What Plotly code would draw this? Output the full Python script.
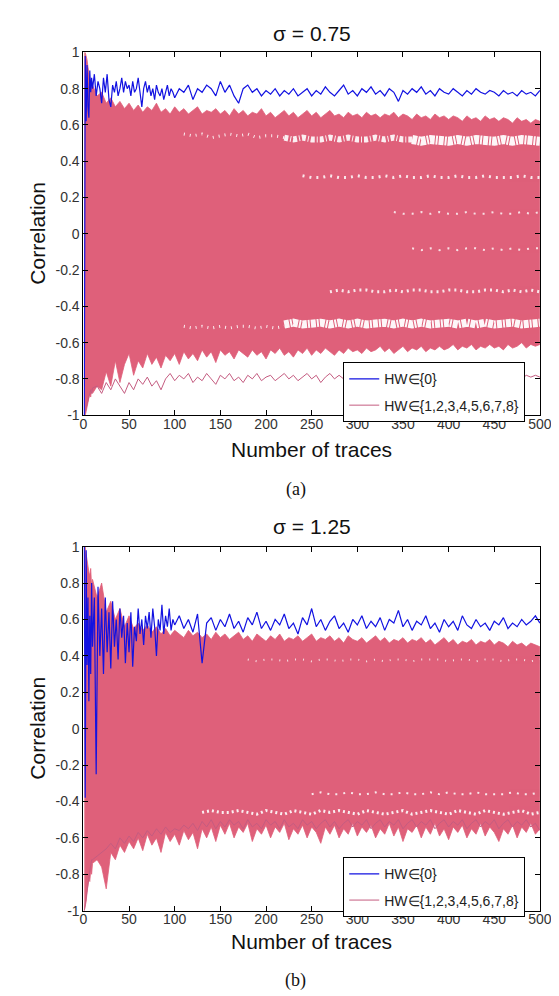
import plotly.graph_objects as go

# ---------------- data ----------------
X_TICKS = [0, 50, 100, 150, 200, 250, 300, 350, 400, 450, 500]
Y_TICKS = [1, 0.8, 0.6, 0.4, 0.2, 0, -0.2, -0.4, -0.6, -0.8, -1]
Y_TICK_TEXT = ["1", "0.8", "0.6", "0.4", "0.2", "0", "-0.2", "-0.4", "-0.6", "-0.8", "-1"]

TITLES = ["\u03c3 = 0.75", "\u03c3 = 1.25"]
PANEL_LABELS = ["(a)", "(b)"]
SERIES_NAMES = ["HW\u2208{0}", "HW\u2208{1,2,3,4,5,6,7,8}"]

X_BLUE = [1, 2, 3, 4, 5, 6, 7, 8, 9, 10] + list(range(12, 101, 2)) + list(range(105, 501, 5))
X_PINK = [1, 2, 3, 4, 5, 6, 7, 8, 9, 10] + list(range(15, 501, 5))

BLUE_A = [
    -1.00, 0.98, 0.62, 0.93, 0.70, 0.64, 0.90, 0.78, 0.86, 0.80,
    0.88, 0.76, 0.84, 0.80, 0.72, 0.86, 0.78, 0.88, 0.74, 0.70,
    0.82, 0.78, 0.84, 0.76, 0.80, 0.86, 0.78, 0.84, 0.80, 0.82,
    0.76, 0.84, 0.78, 0.80, 0.86, 0.76, 0.70, 0.80, 0.84, 0.78,
    0.82, 0.76, 0.80, 0.74, 0.82, 0.78, 0.76, 0.80, 0.74, 0.78,
    0.82, 0.76, 0.80, 0.78, 0.75,
    0.80, 0.78, 0.82, 0.74, 0.80, 0.78, 0.82, 0.80, 0.76, 0.84,
    0.78, 0.82, 0.76, 0.72, 0.80, 0.82, 0.78, 0.80, 0.76, 0.79,
    0.77, 0.80, 0.76, 0.79, 0.77, 0.80, 0.76, 0.78, 0.80, 0.76,
    0.79, 0.77, 0.81, 0.78, 0.76, 0.79, 0.82, 0.77, 0.79, 0.76,
    0.80, 0.78, 0.81, 0.77, 0.79, 0.76, 0.80, 0.78, 0.73, 0.79,
    0.77, 0.80, 0.78, 0.81, 0.77, 0.79, 0.76, 0.80, 0.78, 0.77,
    0.80, 0.78, 0.76, 0.79, 0.77, 0.80, 0.78, 0.77, 0.79, 0.78,
    0.76, 0.79, 0.77, 0.78, 0.76, 0.79, 0.77, 0.78, 0.76, 0.79,
]
BLUE_B = [
    1.00, -0.38, 0.98, 0.35, 0.72, 0.15, 0.62, 0.30, 0.80, 0.45,
    0.72, -0.25, 0.78, 0.40, 0.66, 0.30, 0.72, 0.42, 0.64, 0.33,
    0.70, 0.45, 0.60, 0.38, 0.66, 0.50, 0.62, 0.36, 0.58, 0.42,
    0.64, 0.34, 0.56, 0.48, 0.66, 0.52, 0.60, 0.46, 0.62, 0.55,
    0.64, 0.50, 0.66, 0.56, 0.40, 0.60, 0.54, 0.68, 0.52, 0.62,
    0.56, 0.66, 0.54, 0.60, 0.57,
    0.62, 0.55, 0.60, 0.53, 0.63, 0.36, 0.58, 0.61, 0.54, 0.60,
    0.56, 0.63, 0.55, 0.59, 0.53, 0.61, 0.57, 0.64, 0.55, 0.59,
    0.54, 0.60, 0.57, 0.63, 0.55, 0.58, 0.52, 0.61, 0.57, 0.66,
    0.56, 0.60, 0.54, 0.59, 0.62, 0.55, 0.58, 0.53, 0.60, 0.57,
    0.62, 0.55, 0.59, 0.56, 0.61, 0.54, 0.60, 0.58, 0.65, 0.56,
    0.60, 0.54, 0.59, 0.57, 0.62, 0.55, 0.58, 0.53, 0.60, 0.56,
    0.59, 0.54, 0.62, 0.57, 0.55, 0.60, 0.56, 0.58, 0.54, 0.59,
    0.57, 0.61, 0.55, 0.58, 0.56, 0.60, 0.57, 0.59, 0.62, 0.58,
]

PINK_A_UP = [
    1.00, 1.00, 0.98, 0.96, 0.92, 0.88, 0.86, 0.84, 0.80, 0.82,
    0.76, 0.78, 0.72, 0.75, 0.70, 0.73, 0.69, 0.72, 0.68, 0.71,
    0.67, 0.70, 0.68, 0.72, 0.67, 0.69, 0.66, 0.70, 0.67, 0.69,
    0.66, 0.68, 0.70, 0.66, 0.68, 0.67, 0.69, 0.66, 0.68, 0.65,
    0.69, 0.66, 0.68, 0.65, 0.67, 0.66, 0.69, 0.65, 0.67, 0.64,
    0.66, 0.68, 0.65, 0.67, 0.64, 0.66, 0.68, 0.65, 0.67, 0.64,
    0.66, 0.68, 0.65, 0.66, 0.64, 0.67, 0.65, 0.66, 0.64, 0.67,
    0.65, 0.66, 0.64, 0.66, 0.65, 0.67, 0.64, 0.66, 0.65, 0.63,
    0.66, 0.64, 0.65, 0.63, 0.66, 0.64, 0.65, 0.63, 0.65, 0.64,
    0.62, 0.65, 0.63, 0.64, 0.62, 0.65, 0.63, 0.64, 0.62, 0.64,
    0.63, 0.61, 0.64, 0.62, 0.63, 0.61, 0.63, 0.62,
]
PINK_A_LO = [
    -1.00, -1.00, -0.98, -0.95, -0.92, -0.90, -0.88, -0.90, -0.86, -0.88,
    -0.84, -0.86, -0.76, -0.84, -0.70, -0.82, -0.72, -0.66, -0.78, -0.70,
    -0.74, -0.66, -0.72, -0.68, -0.74, -0.67, -0.70, -0.66, -0.72, -0.65,
    -0.69, -0.66, -0.70, -0.64, -0.68, -0.65, -0.71, -0.64, -0.67, -0.65,
    -0.69, -0.64, -0.66, -0.68, -0.64, -0.67, -0.65, -0.69, -0.64, -0.66,
    -0.63, -0.67, -0.65, -0.68, -0.64, -0.66, -0.63, -0.67, -0.64, -0.66,
    -0.63, -0.65, -0.67, -0.64, -0.66, -0.63, -0.65, -0.64, -0.66, -0.63,
    -0.65, -0.64, -0.62, -0.65, -0.63, -0.66, -0.64, -0.62, -0.65, -0.63,
    -0.64, -0.62, -0.65, -0.63, -0.64, -0.62, -0.64, -0.63, -0.61, -0.64,
    -0.62, -0.63, -0.61, -0.64, -0.62, -0.63, -0.61, -0.63, -0.62, -0.64,
    -0.61, -0.63, -0.62, -0.60, -0.63, -0.61, -0.62, -0.61,
]
LOW_A = [
    -1.00, -0.98, -0.96, -0.94, -0.92, -0.90, -0.88, -0.86, -0.88, -0.85,
    -0.84, -0.88, -0.82, -0.86, -0.80, -0.84, -0.88, -0.82, -0.86, -0.80,
    -0.83, -0.79, -0.84, -0.81, -0.86, -0.80, -0.77, -0.81, -0.78, -0.80,
    -0.77, -0.82, -0.79, -0.81, -0.77, -0.80, -0.83, -0.78, -0.80, -0.77,
    -0.81, -0.79, -0.82, -0.78, -0.80, -0.77, -0.81, -0.79, -0.78, -0.81,
    -0.79, -0.77, -0.80, -0.78, -0.81, -0.79, -0.77, -0.80, -0.78, -0.82,
    -0.79, -0.77, -0.80, -0.78, -0.80, -0.79, -0.77, -0.80, -0.78, -0.79,
    -0.77, -0.80, -0.78, -0.79, -0.77, -0.80, -0.78, -0.79, -0.77, -0.80,
    -0.78, -0.79, -0.77, -0.80, -0.78, -0.79, -0.78, -0.80, -0.78, -0.79,
    -0.77, -0.80, -0.78, -0.79, -0.77, -0.79, -0.78, -0.80, -0.78, -0.79,
    -0.77, -0.79, -0.78, -0.80, -0.78, -0.79, -0.78, -0.79,
]

PINK_B_UP = [
    1.00, 1.00, 0.96, 0.92, 0.90, 0.86, 0.84, 0.88, 0.78, 0.82,
    0.72, 0.80, 0.64, 0.70, 0.60, 0.66, 0.56, 0.62, 0.55, 0.58,
    0.54, 0.57, 0.53, 0.56, 0.52, 0.55, 0.51, 0.54, 0.52, 0.50,
    0.54, 0.51, 0.53, 0.50, 0.52, 0.49, 0.53, 0.50, 0.52, 0.49,
    0.51, 0.53, 0.49, 0.51, 0.48, 0.52, 0.50, 0.48, 0.51, 0.49,
    0.52, 0.48, 0.50, 0.49, 0.51, 0.48, 0.50, 0.52, 0.48, 0.50,
    0.49, 0.51, 0.48, 0.50, 0.47, 0.51, 0.49, 0.48, 0.50, 0.47,
    0.49, 0.51, 0.48, 0.50, 0.47, 0.49, 0.48, 0.50, 0.47, 0.49,
    0.48, 0.50, 0.47, 0.49, 0.46, 0.48, 0.50, 0.47, 0.49, 0.46,
    0.48, 0.47, 0.49, 0.46, 0.48, 0.47, 0.49, 0.46, 0.48, 0.47,
    0.45, 0.48, 0.46, 0.47, 0.45, 0.47, 0.46, 0.45,
]
PINK_B_LO = [
    -1.00, -0.98, -0.95, -0.90, -0.86, -0.82, -0.84, -0.78, -0.80, -0.74,
    -0.72, -0.76, -0.88, -0.68, -0.72, -0.64, -0.68, -0.62, -0.66, -0.60,
    -0.67, -0.58, -0.64, -0.60, -0.68, -0.57, -0.62, -0.58, -0.64, -0.56,
    -0.61, -0.57, -0.66, -0.55, -0.60, -0.54, -0.62, -0.53, -0.58, -0.52,
    -0.60, -0.54, -0.57, -0.52, -0.62, -0.55, -0.58, -0.53, -0.60, -0.54,
    -0.57, -0.52, -0.61, -0.55, -0.58, -0.53, -0.60, -0.54, -0.57, -0.63,
    -0.54, -0.58, -0.53, -0.60, -0.55, -0.58, -0.52, -0.59, -0.54, -0.57,
    -0.53, -0.60, -0.55, -0.58, -0.52, -0.59, -0.54, -0.62, -0.55, -0.57,
    -0.53, -0.60, -0.54, -0.58, -0.52, -0.59, -0.55, -0.61, -0.54, -0.57,
    -0.53, -0.60, -0.55, -0.58, -0.52, -0.59, -0.54, -0.57, -0.62, -0.55,
    -0.58, -0.53, -0.60, -0.54, -0.57, -0.52, -0.58, -0.55,
]
LOW_B = [
    -1.00, -0.96, -0.92, -0.88, -0.84, -0.80, -0.78, -0.75, -0.72, -0.72,
    -0.70, -0.68, -0.66, -0.63, -0.66, -0.60, -0.63, -0.59, -0.62, -0.57,
    -0.60, -0.56, -0.59, -0.55, -0.58, -0.54, -0.57, -0.55, -0.56, -0.53,
    -0.55, -0.52, -0.56, -0.51, -0.54, -0.50, -0.55, -0.51, -0.54, -0.50,
    -0.53, -0.51, -0.55, -0.50, -0.54, -0.52, -0.55, -0.50, -0.53, -0.51,
    -0.55, -0.50, -0.54, -0.52, -0.55, -0.50, -0.53, -0.51, -0.55, -0.52,
    -0.50, -0.54, -0.51, -0.55, -0.52, -0.50, -0.54, -0.51, -0.53, -0.50,
    -0.55, -0.52, -0.50, -0.54, -0.51, -0.53, -0.50, -0.55, -0.52, -0.50,
    -0.54, -0.51, -0.53, -0.50, -0.55, -0.52, -0.50, -0.54, -0.51, -0.53,
    -0.50, -0.55, -0.52, -0.50, -0.54, -0.51, -0.53, -0.50, -0.55, -0.52,
    -0.50, -0.54, -0.51, -0.53, -0.50, -0.54, -0.52, -0.56,
]

# white gaps between the wrong-key groups (panel a)
A_GAP1_X = list(range(110, 221, 10))
A_GAP1_Y = [0.55, 0.54, 0.55, 0.53, 0.54, 0.55, 0.54, 0.55, 0.53, 0.54, 0.54, 0.53]
A_GAP2_X = list(range(220, 361, 10))
A_GAP2_Y = [0.53, 0.52, 0.53, 0.52, 0.52, 0.53, 0.52, 0.53, 0.52, 0.52, 0.53, 0.52, 0.53, 0.52, 0.52]
A_GAP3_X = list(range(360, 501, 10))
A_GAP3_Y = [0.52, 0.51, 0.52, 0.51, 0.51, 0.52, 0.51, 0.52, 0.51, 0.51, 0.52, 0.51, 0.52, 0.51, 0.51]
A_GAP4_X = list(range(240, 501, 10))
A_GAP4_Y = [0.32, 0.31, 0.31, 0.32, 0.31, 0.31, 0.32, 0.31, 0.31, 0.32, 0.31, 0.32, 0.31, 0.31,
            0.32, 0.31, 0.31, 0.32, 0.31, 0.31, 0.32, 0.31, 0.31, 0.31, 0.32, 0.31, 0.31]
A_GAP5_X = list(range(340, 501, 10))
A_GAP5_Y = [0.12, 0.11, 0.11, 0.12, 0.11, 0.12, 0.11, 0.11, 0.12, 0.11, 0.11, 0.12, 0.11, 0.11, 0.12, 0.11, 0.12]
A_GAP6_X = list(range(360, 501, 10))
A_GAP6_Y = [-0.08, -0.09, -0.08, -0.09, -0.08, -0.09, -0.08, -0.08, -0.09, -0.08, -0.09, -0.08, -0.09, -0.08, -0.08]
A_GAP7_X = list(range(270, 501, 10))
A_GAP7_Y = [-0.32, -0.31, -0.32, -0.31, -0.31, -0.32, -0.32, -0.31, -0.32, -0.31, -0.31, -0.32,
            -0.32, -0.31, -0.31, -0.32, -0.32, -0.31, -0.31, -0.32, -0.31, -0.32, -0.31, -0.32]
A_GAP8_X = list(range(110, 221, 10))
A_GAP8_Y = [-0.51, -0.52, -0.51, -0.52, -0.51, -0.52, -0.51, -0.51, -0.52, -0.51, -0.52, -0.51]
A_GAP9_X = list(range(220, 501, 10))
A_GAP9_Y = [-0.50, -0.49, -0.50, -0.49, -0.49, -0.50, -0.49, -0.50, -0.49, -0.50, -0.49, -0.49, -0.50, -0.49,
            -0.50, -0.49, -0.50, -0.49, -0.49, -0.50, -0.49, -0.50, -0.49, -0.50, -0.49, -0.49, -0.50, -0.49, -0.49]

# white gaps (panel b)
B_GAP1_X = list(range(180, 501, 10))
B_GAP1_Y = [0.38, 0.37, 0.38, 0.38, 0.37, 0.38, 0.38, 0.37, 0.38, 0.38,
            0.37, 0.38, 0.38, 0.37, 0.38, 0.37, 0.38, 0.38, 0.37, 0.38,
            0.38, 0.38, 0.37, 0.38, 0.38, 0.37, 0.38, 0.38, 0.37, 0.38,
            0.38, 0.37, 0.38]
B_GAP2_X = list(range(250, 501, 10))
B_GAP2_Y = [-0.36, -0.35, -0.36, -0.36, -0.35, -0.36, -0.36, -0.35, -0.36, -0.36,
            -0.35, -0.36, -0.36, -0.35, -0.36, -0.35, -0.36, -0.36, -0.35, -0.36,
            -0.36, -0.36, -0.35, -0.36, -0.36, -0.35]
B_GAP3_X = list(range(130, 501, 10))
B_GAP3_Y = [-0.46, -0.45, -0.46, -0.46, -0.45, -0.46, -0.47, -0.45, -0.46, -0.47,
            -0.45, -0.46, -0.47, -0.45, -0.46, -0.45, -0.46, -0.47, -0.45, -0.46,
            -0.47, -0.46, -0.45, -0.47, -0.46, -0.45, -0.46, -0.47, -0.45, -0.46,
            -0.47, -0.45, -0.46, -0.47, -0.46, -0.45, -0.47, -0.46]

for a, b in [(X_BLUE, BLUE_A), (X_BLUE, BLUE_B), (X_PINK, PINK_A_UP), (X_PINK, PINK_A_LO), (X_PINK, LOW_A),
             (X_PINK, PINK_B_UP), (X_PINK, PINK_B_LO), (X_PINK, LOW_B),
             (A_GAP1_X, A_GAP1_Y), (A_GAP2_X, A_GAP2_Y), (A_GAP3_X, A_GAP3_Y), (A_GAP4_X, A_GAP4_Y),
             (A_GAP5_X, A_GAP5_Y), (A_GAP6_X, A_GAP6_Y), (A_GAP7_X, A_GAP7_Y), (A_GAP8_X, A_GAP8_Y),
             (A_GAP9_X, A_GAP9_Y), (B_GAP1_X, B_GAP1_Y), (B_GAP2_X, B_GAP2_Y), (B_GAP3_X, B_GAP3_Y)]:
    assert len(a) == len(b), (len(a), len(b))

# ---------------- style ----------------
PINK = "rgb(223,96,122)"
MAUVE = "rgb(196,92,128)"
BLUE = "rgb(18,18,225)"
FONT = "Liberation Sans, Arial, sans-serif"

fig = go.Figure()


def add_panel(xa, ya, legend, blue, up, lo, low, gaps):
    fig.add_trace(go.Scatter(x=X_PINK, y=lo, mode="lines", line=dict(color=PINK, width=0.8),
                             xaxis=xa, yaxis=ya, showlegend=False, hoverinfo="skip"))
    fig.add_trace(go.Scatter(x=X_PINK, y=up, mode="lines", line=dict(color=PINK, width=0.8),
                             fill="tonexty", fillcolor=PINK,
                             xaxis=xa, yaxis=ya, showlegend=False, hoverinfo="skip"))
    for gx, gy, w, dash, op in gaps:
        fig.add_trace(go.Scatter(x=gx, y=gy, mode="lines", opacity=op,
                                 line=dict(color="white", width=w, dash=dash),
                                 xaxis=xa, yaxis=ya, showlegend=False, hoverinfo="skip"))
    fig.add_trace(go.Scatter(x=X_PINK, y=low, mode="lines", line=dict(color=MAUVE, width=1),
                             name=SERIES_NAMES[1], legend=legend, legendrank=2, legendgroup="w",
                             xaxis=xa, yaxis=ya))
    fig.add_trace(go.Scatter(x=X_BLUE, y=blue, mode="lines", line=dict(color=BLUE, width=1.2),
                             name=SERIES_NAMES[0], legend=legend, legendrank=1, legendgroup="r",
                             xaxis=xa, yaxis=ya))


add_panel("x", "y", "legend", BLUE_A, PINK_A_UP, PINK_A_LO, LOW_A, [
    (A_GAP1_X, A_GAP1_Y, 3, "1px,5px", 0.9),
    (A_GAP2_X, A_GAP2_Y, 6, "4px,2px,1px,2px", 0.9),
    (A_GAP3_X, A_GAP3_Y, 9, "5px,1px,2px,1px", 0.95),
    (A_GAP4_X, A_GAP4_Y, 3, "2px,5px", 0.85),
    (A_GAP5_X, A_GAP5_Y, 2, "2px,7px", 0.8),
    (A_GAP6_X, A_GAP6_Y, 2, "2px,7px", 0.8),
    (A_GAP7_X, A_GAP7_Y, 3, "2px,4px", 0.85),
    (A_GAP8_X, A_GAP8_Y, 3, "1px,5px", 0.9),
    (A_GAP9_X, A_GAP9_Y, 8, "5px,1px,2px,1px", 0.95),
])
add_panel("x2", "y2", "legend2", BLUE_B, PINK_B_UP, PINK_B_LO, LOW_B, [
    (B_GAP1_X, B_GAP1_Y, 2, "1px,7px", 0.8),
    (B_GAP2_X, B_GAP2_Y, 2, "2px,6px", 0.85),
    (B_GAP3_X, B_GAP3_Y, 3, "2px,3px", 0.9),
])

W, H = 559, 996
XDOM = [73.5 / W, 543.5 / W]


def ydom(top_px, bot_px):
    return [(H - bot_px) / H, (H - top_px) / H]


axis_common = dict(showline=True, linecolor="black", linewidth=1, mirror="ticks", ticks="inside",
                   ticklen=5, tickcolor="black", showgrid=False, zeroline=False,
                   tickfont=dict(family=FONT, size=14, color="#333"))

xa_common = dict(axis_common, range=[0, 500], tickvals=X_TICKS, ticktext=[str(v) for v in X_TICKS],
                 ticklabelstandoff=-4)
ya_common = dict(axis_common, range=[-1, 1], tickvals=Y_TICKS, ticktext=Y_TICK_TEXT)

legend_common = dict(xanchor="left", yanchor="top", bgcolor="white", bordercolor="black", borderwidth=1,
                     font=dict(family=FONT, size=14, color="#222"), tracegroupgap=5, itemwidth=30)

cx = (XDOM[0] + XDOM[1]) / 2


def py(px):
    return (H - px) / H


annotations = []
for title, ty, xt_y, yt_y, lab, lab_y in [
    (TITLES[0], 17.5, 441, 221, PANEL_LABELS[0], 481),
    (TITLES[1], 519, 941, 724, PANEL_LABELS[1], 980),
]:
    annotations.append(dict(text=title, x=cx, y=py(ty), xref="paper", yref="paper", showarrow=False,
                            xanchor="center", yanchor="middle", font=dict(family=FONT, size=21, color="#111")))
    annotations.append(dict(text="Number of traces", x=cx, y=py(xt_y), xref="paper", yref="paper",
                            showarrow=False, xanchor="center", yanchor="middle",
                            font=dict(family=FONT, size=21, color="#111")))
    annotations.append(dict(text="Correlation", x=26 / W, y=py(yt_y), xref="paper", yref="paper",
                            showarrow=False, textangle=-90, xanchor="center", yanchor="middle",
                            font=dict(family=FONT, size=21, color="#111")))
    annotations.append(dict(text=lab, x=292 / W, y=py(lab_y), xref="paper", yref="paper", showarrow=False,
                            xanchor="center", yanchor="middle",
                            font=dict(family="Liberation Serif, Times New Roman, serif", size=18, color="#111")))

fig.update_layout(
    width=W, height=H,
    margin=dict(l=0, r=0, t=0, b=0),
    paper_bgcolor="white", plot_bgcolor="white",
    xaxis=dict(xa_common, domain=XDOM, anchor="y"),
    yaxis=dict(ya_common, domain=ydom(37, 405.7), anchor="x"),
    xaxis2=dict(xa_common, domain=XDOM, anchor="y2"),
    yaxis2=dict(ya_common, domain=ydom(539.3, 909.3), anchor="x2"),
    legend=dict(legend_common, x=341 / W, y=py(352)),
    legend2=dict(legend_common, x=341 / W, y=py(855)),
    annotations=annotations,
    showlegend=True,
)

fig.write_html("out.html")
